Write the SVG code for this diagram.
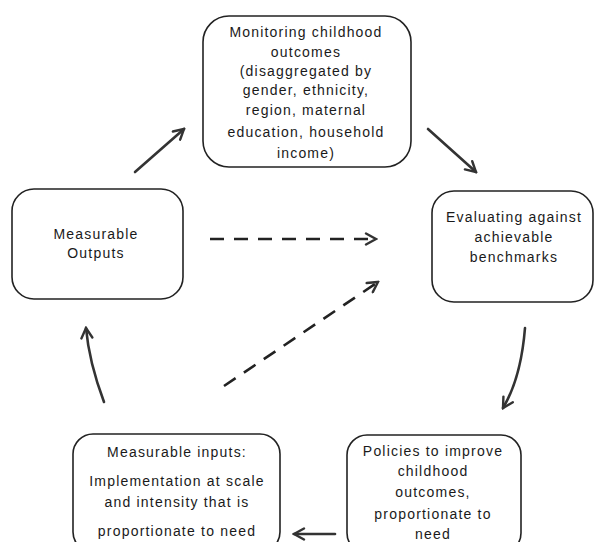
<svg xmlns="http://www.w3.org/2000/svg" width="594" height="542" viewBox="0 0 594 542">
<style>
.box{fill:#fff;stroke:#222;stroke-width:1.6}
.t{font-family:"Liberation Sans",Arial,sans-serif;font-size:14px;letter-spacing:1.2px;fill:#1a1a1a;text-anchor:middle}
.arr{fill:none;stroke:#333;stroke-width:2.6;stroke-linecap:round}
.dash{fill:none;stroke:#222;stroke-width:2.6;stroke-dasharray:14 10}
</style>
<defs>
<marker id="chev" viewBox="0 0 14 14" refX="12" refY="7" markerWidth="14" markerHeight="14" markerUnits="userSpaceOnUse" orient="auto">
<path d="M2,1.5 L12,7 L2,12.5" fill="none" stroke="#333" stroke-width="2.4" stroke-linecap="round" stroke-linejoin="miter"/>
</marker>
</defs>
<rect width="594" height="542" fill="#fff"/>
<g id="monitoring">
<rect class="box" x="203" y="16" width="208" height="151" rx="26"/>
<text class="t" x="306" y="37">Monitoring childhood</text>
<text class="t" x="306" y="57">outcomes</text>
<text class="t" x="306" y="76">(disaggregated by</text>
<text class="t" x="306" y="95">gender, ethnicity,</text>
<text class="t" x="306" y="115">region, maternal</text>
<text class="t" x="306" y="137">education, household</text>
<text class="t" x="306" y="158">income)</text>
</g>
<g id="outputs">
<rect class="box" x="12" y="189" width="171" height="110" rx="22"/>
<text class="t" x="96" y="239">Measurable</text>
<text class="t" x="96" y="258">Outputs</text>
</g>
<g id="evaluating">
<rect class="box" x="432" y="191" width="161" height="111" rx="22"/>
<text class="t" x="514" y="222">Evaluating against</text>
<text class="t" x="514" y="242">achievable</text>
<text class="t" x="514" y="262">benchmarks</text>
</g>
<g id="policies">
<rect class="box" x="347" y="435" width="174" height="118" rx="20"/>
<text class="t" x="433" y="456">Policies to improve</text>
<text class="t" x="433" y="476">childhood</text>
<text class="t" x="433" y="497">outcomes,</text>
<text class="t" x="433" y="519">proportionate to</text>
<text class="t" x="433" y="539">need</text>
</g>
<g id="inputs">
<rect class="box" x="73" y="434" width="207" height="118" rx="20"/>
<text class="t" x="177" y="457">Measurable inputs:</text>
<text class="t" x="177" y="486">Implementation at scale</text>
<text class="t" x="177" y="507">and intensity that is</text>
<text class="t" x="177" y="536">proportionate to need</text>
</g>
<g id="connectors">
<path class="arr" d="M135,172 L184,129" marker-end="url(#chev)"/>
<path class="arr" d="M428,129 L476,172" marker-end="url(#chev)"/>
<path class="arr" d="M525,328 Q521,378 503,408" marker-end="url(#chev)"/>
<path class="arr" d="M335,534 L294,534" marker-end="url(#chev)"/>
<path class="arr" d="M104,402 Q89,362 86,328" marker-end="url(#chev)"/>
<path class="dash" d="M210,239 L376,239" marker-end="url(#chev)"/>
<path class="dash" d="M224,386 L378,282" marker-end="url(#chev)"/>
</g>
</svg>
